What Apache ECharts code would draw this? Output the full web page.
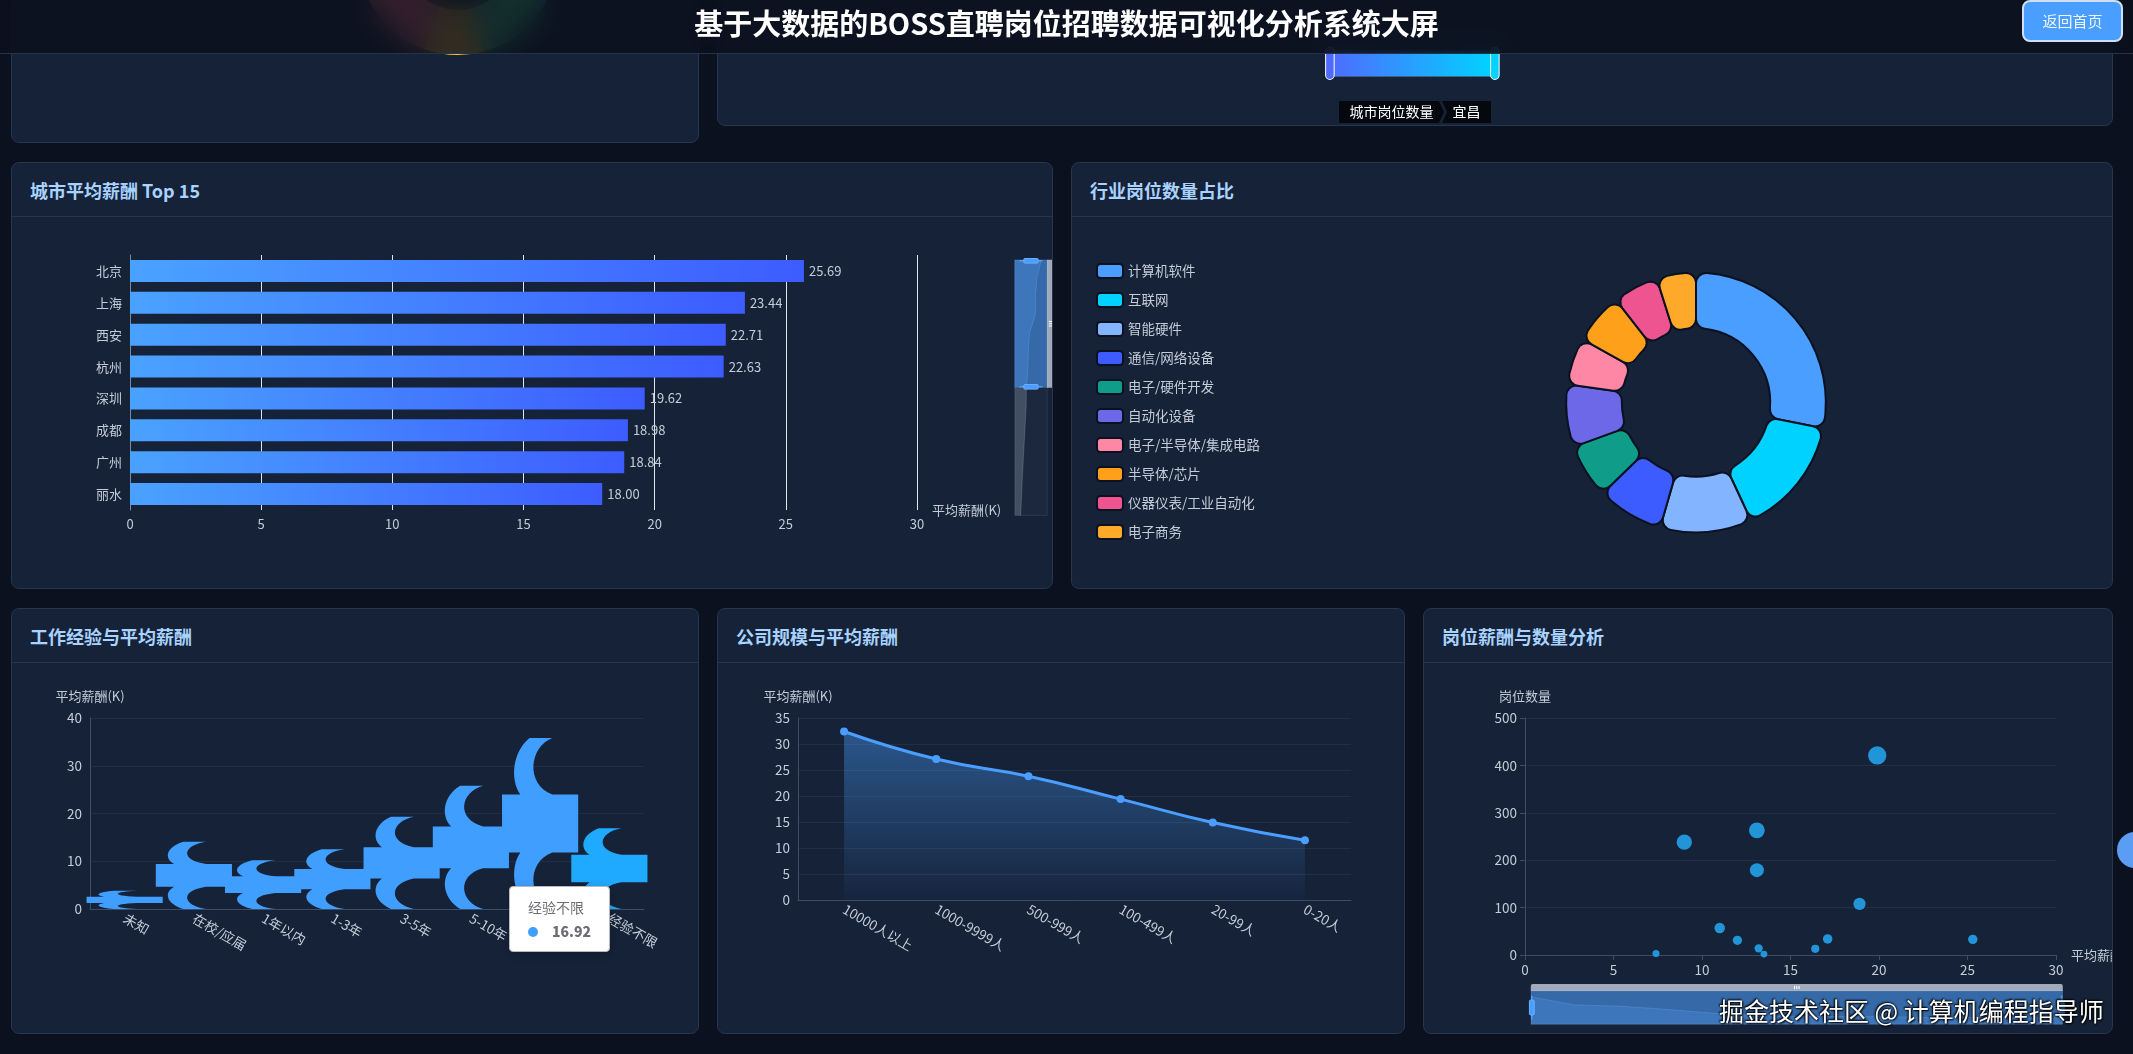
<!DOCTYPE html>
<html>
<head>
<meta charset="utf-8">
<script src="https://cdn.jsdelivr.net/npm/echarts@6/dist/echarts.min.js"></script>
<style>
html,body{margin:0;padding:0;width:2133px;height:1054px;overflow:hidden;background:#0b111e;font-family:"Noto Sans CJK SC","Noto Sans",sans-serif;}
.panel{position:absolute;background:#152238;border:1px solid #26364f;border-radius:8px;overflow:hidden;box-sizing:border-box;}
.phead{position:absolute;left:0;right:0;top:0;height:53px;border-bottom:1px solid #26364f;}
.ptitle{position:absolute;left:18px;top:0;line-height:54px;font-size:18px;font-weight:bold;color:#a8d2ff;}
.chart{position:absolute;left:0;right:0;top:54px;bottom:0;}
#header{position:absolute;left:0;top:0;width:2133px;height:53px;background:rgba(11,16,28,0.84);backdrop-filter:blur(14px);-webkit-backdrop-filter:blur(14px);border-bottom:1px solid #22334d;z-index:10;}
#title{position:absolute;left:0;right:0;top:0;line-height:44px;text-align:center;color:#fff;font-size:29px;font-weight:bold;}
#btn{position:absolute;left:2022px;top:0;width:101px;height:42px;box-sizing:border-box;border:2px solid #cfe0f5;border-radius:8px;background:#4a9eff;color:#eef6ff;font-size:15px;line-height:38px;text-align:center;}
#tab{position:absolute;left:2117px;top:832px;width:36px;height:36px;border-radius:50%;background:#5b9df5;z-index:12;}
#wm{position:absolute;left:1719px;top:995px;font-size:25px;line-height:30px;color:#fff;white-space:nowrap;text-shadow:0 0 2px #000,1px 1px 2px #000,-1px -1px 2px #000;z-index:20;}
</style>
</head>
<body>
<div class="panel" style="left:11px;top:-290px;width:688px;height:433px;"><div class="phead"><div class="ptitle">学历要求分布</div></div><div class="chart" id="c1"></div></div>
<div class="panel" style="left:717px;top:-300px;width:1396px;height:426px;"><div class="phead"><div class="ptitle">城市岗位数量</div></div><div class="chart" id="c2"></div></div>
<div class="panel" style="left:11px;top:162px;width:1042px;height:427px;"><div class="phead"><div class="ptitle">城市平均薪酬 Top 15</div></div><div class="chart" id="c3"></div></div>
<div class="panel" style="left:1071px;top:162px;width:1042px;height:427px;"><div class="phead"><div class="ptitle">行业岗位数量占比</div></div><div class="chart" id="c4"></div></div>
<div class="panel" style="left:11px;top:608px;width:688px;height:426px;"><div class="phead"><div class="ptitle">工作经验与平均薪酬</div></div><div class="chart" id="c5"></div></div>
<div class="panel" style="left:717px;top:608px;width:688px;height:426px;"><div class="phead"><div class="ptitle">公司规模与平均薪酬</div></div><div class="chart" id="c6"></div></div>
<div class="panel" style="left:1423px;top:608px;width:690px;height:426px;"><div class="phead"><div class="ptitle">岗位薪酬与数量分析</div></div><div class="chart" id="c7"></div></div>
<div id="header"><div id="title">基于大数据的BOSS直聘岗位招聘数据可视化分析系统大屏</div><div id="btn">返回首页</div></div>
<div id="tab"></div>
<div id="wm">掘金技术社区 @ 计算机编程指导师</div>
<script>
// ---------- data ----------
const eduNames = ['本科', '大专', '硕士', '学历不限', '博士'];
const eduCounts = [120, 45, 35, 50, 110];

const treeCities = ['北京', '上海', '深圳', '杭州', '广州', '成都', '西安', '武汉', '南京', '苏州', '宜昌'];
const treeCounts = [420, 380, 350, 260, 240, 180, 160, 120, 100, 90, 30];

const cityNames = ['北京', '上海', '西安', '杭州', '深圳', '成都', '广州', '丽水', '苏州', '南京', '武汉', '长沙', '宁波', '珠海', '合肥'];
const citySalary = [25.69, 23.44, 22.71, 22.63, 19.62, 18.98, 18.84, 18.00, 17.9, 17.4, 16.9, 16.4, 15.9, 15.5, 15.1];

const industryNames = ['计算机软件', '互联网', '智能硬件', '通信/网络设备', '电子/硬件开发', '自动化设备', '电子/半导体/集成电路', '半导体/芯片', '仪器仪表/工业自动化', '电子商务'];
const industryCounts = [508, 268, 205, 149, 122, 140, 105, 115, 102, 88];

const expLevels = ['未知', '在校/应届', '1年以内', '1-3年', '3-5年', '5-10年', '10年以上', '经验不限'];
const expSalary = [3.8, 14.1, 10.2, 12.5, 19.3, 25.8, 35.8, 16.92];

const companySizes = ['10000人以上', '1000-9999人', '500-999人', '100-499人', '20-99人', '0-20人'];
const companySalary = [32.4, 27.1, 23.8, 19.4, 14.9, 11.5];

const scatterSalary = [19.9, 13.1, 9.0, 13.1, 18.9, 11.0, 17.1, 25.3, 12.0, 13.2, 16.4, 7.4, 13.5];
const scatterCount = [421, 263, 238, 179, 108, 57, 34, 33, 31, 14, 13, 3, 2];

// ---------- styles ----------
const FONT = '"Noto Sans CJK SC", "Noto Sans", sans-serif';
const LBL = '#c5ccd8';
const AXL = '#3d4d66';
const industryColors = ['#4a9eff', '#00d2ff', '#82b4ff', '#3d5cff', '#0f9d8a', '#6c68e8', '#ff87a6', '#ffa01a', '#ee5590', '#ffa92a'];
const SHAPE = 'path://M0,33 L100,33 L100,67 L0,67 Z M36,0 L66,0 C36,5 30,27 66,33 L24,33 C10,24 14,8 36,0 Z M36,100 L66,100 C36,95 30,73 66,67 L24,67 C10,76 14,92 36,100 Z';

const dz = {
  showDetail: false,
  backgroundColor: 'rgba(255,255,255,0.03)',
  borderColor: 'rgba(255,255,255,0.08)',
  fillerColor: 'rgba(74,158,255,0.55)',
  handleSize: '70%',
  handleStyle: {color: '#4a9eff', borderColor: '#6ab0ff'},
  moveHandleStyle: {color: '#c3cddc', opacity: 0.8},
  dataBackground: {lineStyle: {color: '#9aa6b8', opacity: 0.6}, areaStyle: {color: '#8a95a6', opacity: 0.35}},
  selectedDataBackground: {lineStyle: {color: '#8fc0ff', opacity: 0.6}, areaStyle: {color: '#6a9be0', opacity: 0.25}},
  textStyle: {color: LBL}
};

function mk(id, opt) {
  const c = echarts.init(document.getElementById(id));
  opt.animation = false;
  opt.textStyle = {fontFamily: FONT};
  if (opt.grid) opt.grid.outerBoundsMode = 'none';
  c.setOption(opt);
  return c;
}

// top-left (mostly hidden) pie
mk('c1', {
  color: ['#4a9eff', '#3ecf8e', '#ffc53d', '#ff6b81', '#00d2ff'],
  series: [{type: 'pie', radius: [55, 100], center: [446, 190], label: {show: false},
    data: eduNames.map((n, i) => ({name: n, value: eduCounts[i]}))}]
});

// top-right treemap (hidden) with visualMap + breadcrumb
const c2 = mk('c2', {
  visualMap: {type: 'continuous', min: 0, max: 500, calculable: true, orient: 'horizontal', left: 'center', bottom: 30,
    itemWidth: 26, itemHeight: 165, inRange: {color: ['#4f6bff', '#00d4ff']}, textStyle: {color: 'rgba(0,0,0,0)'}},
  series: [{type: 'treemap', name: '城市岗位数量', top: 0, bottom: 330, left: 40, right: 40, roam: false,
    nodeClick: false,
    breadcrumb: {show: true, left: 'center', top: 346, height: 22,
      itemStyle: {color: 'rgba(0,0,0,0.75)', textStyle: {color: '#fff', fontSize: 14}}},
    data: treeCities.map((n, i) => ({name: n, id: n, value: treeCounts[i]}))}]
});
c2.dispatchAction({type: 'treemapRootToNode', seriesIndex: 0, targetNodeId: '宜昌'});

// city salary bar
mk('c3', {
  grid: {left: 118, right: 135, top: 38, bottom: 78},
  xAxis: {type: 'value', min: 0, max: 30, interval: 5, name: '平均薪酬(K)', nameGap: 15,
    nameTextStyle: {color: LBL, fontSize: 13}, axisLabel: {color: LBL, fontSize: 13},
    splitLine: {lineStyle: {color: '#e0e6f1'}}},
  yAxis: {type: 'category', data: cityNames, inverse: true,
    axisLabel: {color: LBL, fontSize: 13}, axisLine: {lineStyle: {color: '#7c8aa0'}}, axisTick: {lineStyle: {color: '#7c8aa0'}}},
  dataZoom: [Object.assign({type: 'slider', yAxisIndex: 0, orient: 'vertical', start: 0, end: 50,
    left: 1002, top: 40, bottom: 75, width: 33}, dz)],
  series: [{type: 'bar', data: citySalary, barWidth: 22,
    itemStyle: {color: new echarts.graphic.LinearGradient(0, 0, 1, 0, [{offset: 0, color: '#4aa2ff'}, {offset: 1, color: '#3d5cff'}])},
    label: {show: true, position: 'right', color: LBL, fontSize: 13, formatter: p => Number(p.value).toFixed(2)}}]
});

// industry donut
mk('c4', {
  color: industryColors,
  legend: {orient: 'vertical', left: 19, top: 41, itemWidth: 26, itemHeight: 14, itemGap: 13,
    textStyle: {color: LBL, fontSize: 13.5}},
  series: [{type: 'pie', radius: ['40%', '70%'], center: ['60%', '50%'],
    itemStyle: {borderRadius: 10, borderColor: '#0b1120', borderWidth: 2},
    label: {show: false}, labelLine: {show: false},
    data: industryNames.map((n, i) => ({name: n, value: industryCounts[i]}))}]
});

// experience pictorial bar
const c5 = mk('c5', {
  grid: {left: 78, right: 54, top: 55, bottom: 124},
  tooltip: {trigger: 'axis', axisPointer: {type: 'none'}, position: [497, 223], padding: [13, 18],
    textStyle: {fontFamily: FONT}},
  xAxis: {type: 'category', data: expLevels,
    axisLabel: {color: LBL, fontSize: 13.5, rotate: -30, interval: 0},
    axisLine: {lineStyle: {color: AXL}}, axisTick: {lineStyle: {color: AXL}}},
  yAxis: {type: 'value', name: '平均薪酬(K)', min: 0, max: 40, interval: 10,
    nameTextStyle: {color: LBL, fontSize: 13}, axisLabel: {color: LBL, fontSize: 13.5},
    axisLine: {show: true, lineStyle: {color: AXL}},
    splitLine: {lineStyle: {color: 'rgba(255,255,255,0.06)'}}},
  series: [{type: 'pictorialBar', data: expSalary, barWidth: '100%', symbol: SHAPE, symbolSize: ['110%', '100%'],
    itemStyle: {color: '#409eff'}, emphasis: {itemStyle: {color: '#1faaff'}}}]
});
c5.dispatchAction({type: 'showTip', seriesIndex: 0, dataIndex: 7});
c5.dispatchAction({type: 'highlight', seriesIndex: 0, dataIndex: 7});

// company size line
mk('c6', {
  grid: {left: 80, right: 53, top: 55, bottom: 133},
  xAxis: {type: 'category', data: companySizes,
    axisLabel: {color: LBL, fontSize: 13.5, rotate: -30, interval: 0},
    axisLine: {lineStyle: {color: AXL}}, axisTick: {lineStyle: {color: AXL}}},
  yAxis: {type: 'value', name: '平均薪酬(K)', min: 0, max: 35, interval: 5,
    nameTextStyle: {color: LBL, fontSize: 13}, axisLabel: {color: LBL, fontSize: 13.5},
    axisLine: {show: true, lineStyle: {color: AXL}},
    splitLine: {lineStyle: {color: 'rgba(255,255,255,0.06)'}}},
  series: [{type: 'line', data: companySalary, smooth: true, symbol: 'circle', symbolSize: 8,
    lineStyle: {width: 3, color: '#4a9eff'}, itemStyle: {color: '#4a9eff'},
    areaStyle: {color: new echarts.graphic.LinearGradient(0, 0, 0, 1, [{offset: 0, color: 'rgba(74,158,255,0.6)'}, {offset: 1, color: 'rgba(74,158,255,0.04)'}])}}]
});

// salary vs count scatter
mk('c7', {
  grid: {left: 101, right: 56, top: 55, bottom: 78},
  xAxis: {type: 'value', min: 0, max: 30, interval: 5, name: '平均薪酬(K)', nameGap: 15,
    nameTextStyle: {color: LBL, fontSize: 13}, axisLabel: {color: LBL, fontSize: 13.5},
    axisLine: {show: true, lineStyle: {color: AXL}}, axisTick: {show: true, lineStyle: {color: AXL}},
    splitLine: {show: false}},
  yAxis: {type: 'value', name: '岗位数量', min: 0, max: 500, interval: 100,
    nameTextStyle: {color: LBL, fontSize: 13}, axisLabel: {color: LBL, fontSize: 13.5},
    axisLine: {show: true, lineStyle: {color: AXL}},
    splitLine: {lineStyle: {color: 'rgba(255,255,255,0.06)'}}},
  dataZoom: [Object.assign({type: 'slider', xAxisIndex: 0, start: 0, end: 100, left: 104, right: 52, bottom: 15, height: 34}, dz)],
  series: [{type: 'scatter', data: scatterSalary.map((x, i) => [x, scatterCount[i]]),
    symbolSize: d => Math.sqrt(d[1]) * 0.6 + 6, itemStyle: {color: '#24a0e6', opacity: 0.92}}]
});
</script>
</body>
</html>
